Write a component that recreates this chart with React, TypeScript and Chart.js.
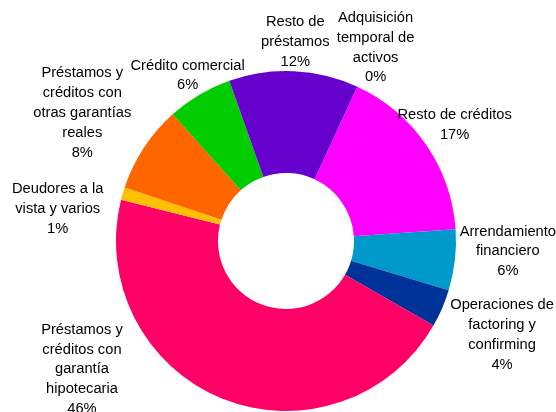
import React, { useEffect, useRef } from "react";
import { Chart, registerables } from "chart.js";

Chart.register(...registerables);

// Category names (line breaks as shown in the chart)
const categories: string[][] = [
  ["Adquisición", "temporal de", "activos"],
  ["Resto de créditos"],
  ["Arrendamiento", "financiero"],
  ["Operaciones de", "factoring y", "confirming"],
  ["Préstamos y", "créditos con", "garantía", "hipotecaria"],
  ["Deudores a la", "vista y varios"],
  ["Préstamos y", "créditos con", "otras garantías", "reales"],
  ["Crédito comercial"],
  ["Resto de", "préstamos"],
];

// Share of total (%)
const shares: number[] = [0, 17.0, 5.8, 3.6, 45.6, 1.2, 8.3, 6.2, 12.3];

const sliceColors: string[] = [
  "#7F7F7F",
  "#FF00FF",
  "#0099CC",
  "#003399",
  "#FF0066",
  "#FFC000",
  "#FF6600",
  "#00CC00",
  "#6600CC",
];

const FONT_SIZE = 14.7;
const LINE_H = 19.8;
const LABEL_BOX_W = 120; // wrap width of a data label box
const GAP = 0;
const PAD_X = 6;
const PAD_Y = 14;
const EDGE_TOL = 8;

const outerLabels = {
  id: "outerLabels",
  afterDatasetsDraw(chart: any) {
    const ctx: CanvasRenderingContext2D = chart.ctx;
    const meta = chart.getDatasetMeta(0);
    const data = chart.data.datasets[0].data as number[];
    const total = data.reduce((a, b) => a + b, 0);
    const W = chart.width;
    const H = chart.height;
    ctx.save();
    ctx.font = `${FONT_SIZE}px "Liberation Sans", Arial, sans-serif`;
    ctx.fillStyle = "#000000";
    ctx.textAlign = "center";
    ctx.textBaseline = "middle";
    // labels are laid out from the last slice back to the first
    const order = data.map((_, i) => i).reverse();
    const placed: { x0: number; x1: number; y0: number; y1: number }[] = [];
    const toDraw: { lines: string[]; rects: any[] }[] = [];
    for (const i of order) {
      const arc = meta.data[i];
      const { x, y, startAngle, endAngle, outerRadius } = arc.getProps(
        ["x", "y", "startAngle", "endAngle", "outerRadius"],
        true
      );
      const raw = chart.data.labels[i];
      const lines: string[] = [
        ...(Array.isArray(raw) ? raw : [String(raw)]),
        Math.round((data[i] / total) * 100) + "%",
      ];
      const widths = lines.map((l) => ctx.measureText(l).width);
      const textHw = Math.max(...widths) / 2;
      const hw = Math.max(textHw, LABEL_BOX_W / 2);
      const hh = (lines.length * LINE_H) / 2;
      const mid = (startAngle + endAngle) / 2;
      let best: any = null;
      let fallback: any = null;
      for (let k = 0; k <= 180 && !best; k++) {
        const deltas = k === 0 ? [0] : [k, -k];
        for (const dd of deltas) {
          const a = mid + (dd * Math.PI) / 180;
          const ux = Math.cos(a);
          const uy = Math.sin(a);
          const ext = Math.min(
            Math.abs(ux) > 1e-6 ? hw / Math.abs(ux) : Infinity,
            Math.abs(uy) > 1e-6 ? hh / Math.abs(uy) : Infinity
          );
          const d = outerRadius + GAP + ext;
          let cx = x + ux * d;
          const cy = y + uy * d;
          cx = Math.min(Math.max(cx, textHw), W - textHw);
          if (cy - hh < -EDGE_TOL || cy + hh > H + EDGE_TOL) continue;
          const rects = lines.map((_, j) => ({
            x0: cx - widths[j] / 2,
            x1: cx + widths[j] / 2,
            y0: cy - hh + j * LINE_H,
            y1: cy - hh + (j + 1) * LINE_H,
          }));
          if (!fallback) fallback = { cx, cy, rects };
          const clash = rects.some((r) =>
            placed.some(
              (p) =>
                r.x0 < p.x1 + PAD_X &&
                p.x0 < r.x1 + PAD_X &&
                r.y0 < p.y1 + PAD_Y &&
                p.y0 < r.y1 + PAD_Y
            )
          );
          if (!clash) {
            best = { cx, cy, rects };
            break;
          }
        }
      }
      const pick = best || fallback;
      if (!pick) continue;
      placed.push(...pick.rects);
      toDraw.push({ lines, rects: pick.rects });
    }
    for (const b of toDraw) {
      b.lines.forEach((l, j) => {
        const r = b.rects[j];
        ctx.fillText(l, (r.x0 + r.x1) / 2, (r.y0 + r.y1) / 2 + 0.5);
      });
    }
    ctx.restore();
  },
};

export default function App() {
  const canvasRef = useRef<HTMLCanvasElement | null>(null);
  useEffect(() => {
    if (!canvasRef.current) return;
    const chart = new Chart(canvasRef.current, {
      type: "doughnut",
      data: {
        labels: categories as any,
        datasets: [
          {
            data: shares,
            backgroundColor: sliceColors,
            borderWidth: 0,
          },
        ],
      },
      options: {
        responsive: false,
        animation: false,
        devicePixelRatio: 1,
        cutout: "40%",
        rotation: 24.8,
        layout: { padding: { left: 116, right: 100, top: 71, bottom: 1 } },
        plugins: {
          legend: { display: false },
          tooltip: { enabled: false },
        },
      },
      plugins: [outerLabels],
    });
    return () => chart.destroy();
  }, []);
  return (
    <div style={{ position: "absolute", left: 0, top: 0, width: 556, height: 412, background: "#fff" }}>
      <canvas ref={canvasRef} width={556} height={412} />
    </div>
  );
}
